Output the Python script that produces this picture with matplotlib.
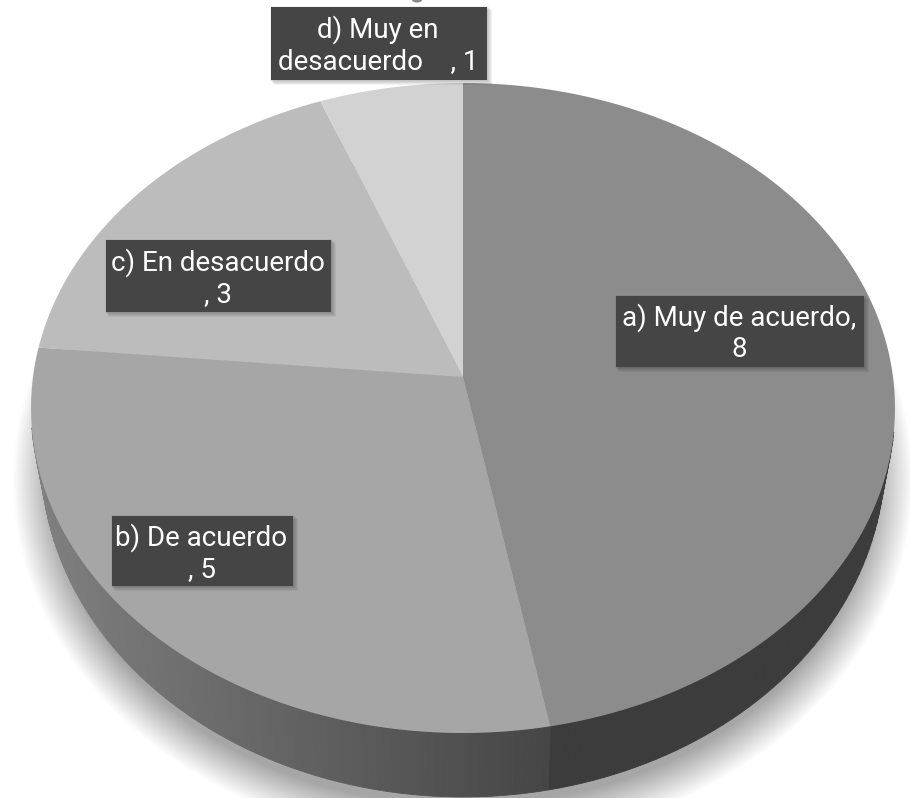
"""Pastel 3D de respuestas, dibujado con una proyeccion en perspectiva del circulo."""

import matplotlib

matplotlib.use("Agg")
import matplotlib.pyplot as plt
import numpy as np
from matplotlib.patches import Ellipse, Rectangle

plt.rcParams["font.family"] = ["Roboto", "DejaVu Sans"]

categories = ["a) Muy de acuerdo", "b) De acuerdo", "c) En desacuerdo", "d) Muy en desacuerdo"]
values = [8, 5, 3, 1]
label_texts = [
    "a) Muy de acuerdo,\n8",
    "b) De acuerdo\n, 5",
    "c) En desacuerdo\n, 3",
    "d) Muy en\ndesacuerdo    , 1",
]

top_colors = ["#8c8c8c", "#a6a6a6", "#bcbcbc", "#d2d2d2"]
label_boxes = [(616, 296, 248, 71), (112, 516, 181, 70), (106, 240, 225, 72), (271, 7, 216, 73)]

APEX_X, APEX_Y = 463, 377
PERSP, SX, SY = 0.0954, 430, 322


def top_point(theta):
    # theta en radianes, sentido horario desde las 12
    cx, cy = np.sin(theta), np.cos(theta)
    w = 1 + PERSP * cy
    return APEX_X + SX * cx / w, APEX_Y - SY * cy / w


def bottom_point(theta):
    x, y = top_point(theta)
    return APEX_X + (x - APEX_X) * 422 / 432, 457 + (y - 408) * 340 / 325


fig = plt.figure(figsize=(9.1, 7.98), dpi=100)
ax = fig.add_axes([0, 0, 1, 1])
ax.set_xlim(0, 910)
ax.set_ylim(798, 0)
ax.axis("off")

# sombra difusa bajo el pastel
for grow in np.linspace(40, 0, 30):
    ax.add_patch(Ellipse((463, 480), 2 * (410 + grow), 2 * (325 + grow), color="black", alpha=0.0105, lw=0, zorder=1))

fractions = np.cumsum([0] + values) / sum(values) * 2 * np.pi

# pared lateral, solo la parte delantera
for i in range(len(values)):
    angles = np.linspace(fractions[i], fractions[i + 1], 120)
    for t0, t1 in zip(angles[:-1], angles[1:]):
        x0, y0 = top_point(t0)
        x1, y1 = top_point(t1)
        if y0 < 430:
            continue
        bx0, by0 = bottom_point(t0)
        bx1, by1 = bottom_point(t1)
        if i == 0:
            shade = 0x3c / 255
        else:
            shade = np.clip(0x46 + (550 - x0) / 520 * (0x80 - 0x46), 0, 255) / 255
        ax.fill([x0, x1, bx1, bx0], [y0, y1, by1, by0], color=(shade, shade, shade), lw=0.6, zorder=2)

# cara superior
for i in range(len(values)):
    angles = np.linspace(fractions[i], fractions[i + 1], 200)
    xs, ys = top_point(angles)
    ax.fill(np.r_[APEX_X, xs], np.r_[APEX_Y, ys], color=top_colors[i], lw=0, zorder=3)

# marca recortada en el borde superior
ax.add_patch(Ellipse((417, 0), 10, 5, color="#8a8a8a", lw=0, zorder=3))

# etiquetas
for text, (x, y, w, h) in zip(label_texts, label_boxes):
    for off in range(1, 6):
        ax.add_patch(Rectangle((x + off - 2, y + off - 2), w + 2, h + 2, color="black", alpha=0.05, lw=0, zorder=4))
    ax.add_patch(Rectangle((x, y), w, h, color="#454545", lw=0, zorder=5))
    ax.text(x + w / 2 - 1, y + h / 2 + 2, text, color="white", fontsize=20, ha="center", va="center",
            linespacing=1.2, zorder=6)

fig.savefig("out.png", dpi=100)
plt.close(fig)
